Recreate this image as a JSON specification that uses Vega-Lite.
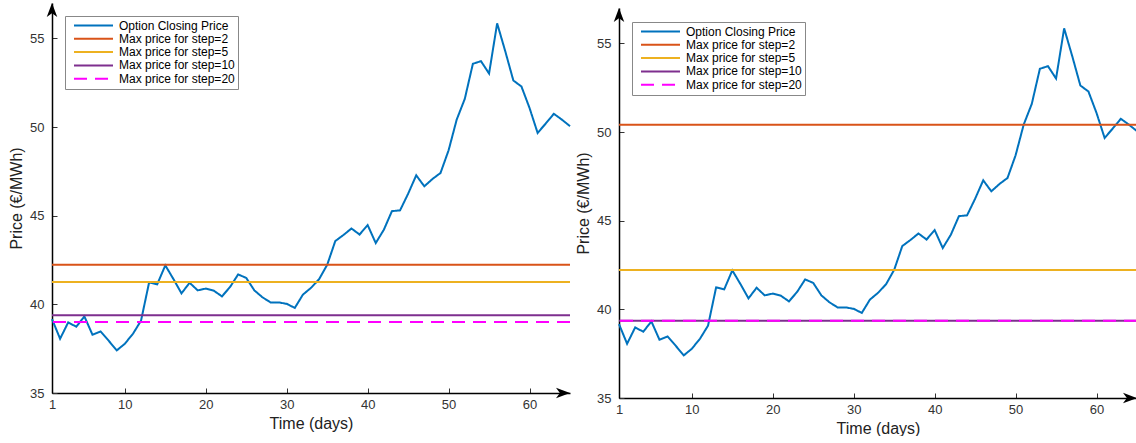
{
  "$schema": "https://vega.github.io/schema/vega-lite/v6.json",
  "autosize": {"type": "pad"},
  "padding": {"left": 8, "top": 3, "right": 0, "bottom": 0},
  "bounds": "flush",
  "spacing": 49,
  "config": {
    "view": {"stroke": null},
    "font": "Liberation Sans",
    "legend": {
      "orient": "none", "legendX": 13, "legendY": 13,
      "symbolType": "stroke", "symbolSize": 1521, "symbolStrokeWidth": 2,
      "labelFontSize": 12, "labelFont": "Liberation Sans", "labelColor": "#000",
      "labelOffset": 5, "symbolOffset": 5,
      "strokeColor": "#888", "fillColor": "white", "padding": 3,
      "clipHeight": 13, "rowPadding": 0.3, "labelLimit": 300
    }
  },
  "datasets": {
    "prices": [
      {"day": 1, "price": 39.17}, {"day": 2, "price": 38.06}, {"day": 3, "price": 38.98}, {"day": 4, "price": 38.74},
      {"day": 5, "price": 39.32}, {"day": 6, "price": 38.29}, {"day": 7, "price": 38.47}, {"day": 8, "price": 37.95},
      {"day": 9, "price": 37.40}, {"day": 10, "price": 37.78}, {"day": 11, "price": 38.34}, {"day": 12, "price": 39.08},
      {"day": 13, "price": 41.24}, {"day": 14, "price": 41.13}, {"day": 15, "price": 42.20}, {"day": 16, "price": 41.43},
      {"day": 17, "price": 40.62}, {"day": 18, "price": 41.22}, {"day": 19, "price": 40.79}, {"day": 20, "price": 40.89},
      {"day": 21, "price": 40.77}, {"day": 22, "price": 40.45}, {"day": 23, "price": 40.98}, {"day": 24, "price": 41.69},
      {"day": 25, "price": 41.49}, {"day": 26, "price": 40.79}, {"day": 27, "price": 40.40}, {"day": 28, "price": 40.11},
      {"day": 29, "price": 40.11}, {"day": 30, "price": 40.03}, {"day": 31, "price": 39.80}, {"day": 32, "price": 40.55},
      {"day": 33, "price": 40.93}, {"day": 34, "price": 41.42}, {"day": 35, "price": 42.23}, {"day": 36, "price": 43.57},
      {"day": 37, "price": 43.91}, {"day": 38, "price": 44.28}, {"day": 39, "price": 43.94}, {"day": 40, "price": 44.47},
      {"day": 41, "price": 43.46}, {"day": 42, "price": 44.21}, {"day": 43, "price": 45.26}, {"day": 44, "price": 45.30},
      {"day": 45, "price": 46.24}, {"day": 46, "price": 47.28}, {"day": 47, "price": 46.66}, {"day": 48, "price": 47.07},
      {"day": 49, "price": 47.41}, {"day": 50, "price": 48.69}, {"day": 51, "price": 50.42}, {"day": 52, "price": 51.59},
      {"day": 53, "price": 53.57}, {"day": 54, "price": 53.72}, {"day": 55, "price": 53.02}, {"day": 56, "price": 55.85},
      {"day": 57, "price": 54.28}, {"day": 58, "price": 52.63}, {"day": 59, "price": 52.29}, {"day": 60, "price": 51.08},
      {"day": 61, "price": 49.67}, {"day": 62, "price": 50.20}, {"day": 63, "price": 50.75}, {"day": 64, "price": 50.42},
      {"day": 65, "price": 50.05}
    ],
    "levels": [
      {"panel": "L", "series": "Max price for step=2", "price": 42.24},
      {"panel": "L", "series": "Max price for step=5", "price": 41.26},
      {"panel": "L", "series": "Max price for step=10", "price": 39.38},
      {"panel": "L", "series": "Max price for step=20", "price": 39.0},
      {"panel": "R", "series": "Max price for step=2", "price": 50.42},
      {"panel": "R", "series": "Max price for step=5", "price": 42.22},
      {"panel": "R", "series": "Max price for step=10", "price": 39.36},
      {"panel": "R", "series": "Max price for step=20", "price": 39.36}
    ]
  },
  "hconcat": [
    {
      "width": 518, "height": 390,
      "layer": [
        {
          "data": {"name": "prices"},
          "mark": {"type": "line", "strokeWidth": 2},
          "encoding": {
            "x": {"field": "day", "type": "quantitative", "title": "Time (days)",
              "scale": {"domain": [1, 65], "nice": false, "zero": false},
              "axis": {"values": [1, 10, 20, 30, 40, 50, 60], "grid": false, "domainColor": "#000", "domainWidth": 1.5,
                "tickColor": "#333", "tickSize": -5, "labelFontSize": 13, "labelColor": "#333", "labelPadding": 10,
                "labelFlush": false, "titleFontSize": 16, "titleFontWeight": "normal", "titleColor": "#222", "titlePadding": 4}},
            "y": {"field": "price", "type": "quantitative", "title": "Price (€/MWh)",
              "scale": {"domain": [35, 57], "nice": false, "zero": false},
              "axis": {"values": [35, 40, 45, 50, 55], "grid": false, "domainColor": "#000", "domainWidth": 1.5,
                "tickColor": "#333", "tickSize": -5, "labelFontSize": 13, "labelColor": "#333", "labelPadding": 13,
                "titleFontSize": 16, "titleFontWeight": "normal", "titleColor": "#222", "titlePadding": 5}},
            "color": {"datum": "Option Closing Price", "type": "nominal", "title": null,
              "scale": {"domain": ["Option Closing Price", "Max price for step=2", "Max price for step=5", "Max price for step=10", "Max price for step=20"],
                "range": ["#0072BD", "#D95319", "#EDB120", "#7E2F8E", "#FF00FF"]}},
            "strokeDash": {"datum": "Option Closing Price", "type": "nominal", "title": null,
              "scale": {"domain": ["Option Closing Price", "Max price for step=2", "Max price for step=5", "Max price for step=10", "Max price for step=20"],
                "range": [[1, 0], [1, 0], [1, 0], [1, 0], [13, 8]]}}
          }
        },
        {
          "data": {"name": "levels"},
          "transform": [{"filter": "datum.panel === 'L'"}],
          "mark": {"type": "rule", "strokeWidth": 2},
          "encoding": {
            "y": {"field": "price", "type": "quantitative", "title": "Price (€/MWh)"},
            "color": {"field": "series", "type": "nominal", "title": null},
            "strokeDash": {"field": "series", "type": "nominal", "title": null}
          }
        },
        {
          "data": {"values": [{"k": 1}]},
          "mark": {"type": "point", "shape": "M0,0L-2,-0.75L-1.45,0L-2,0.75Z", "filled": true, "color": "black", "size": 196, "opacity": 1, "strokeWidth": 0},
          "encoding": {"x": {"datum": 65, "type": "quantitative", "title": "Time (days)"}, "y": {"datum": 35, "type": "quantitative", "title": "Price (€/MWh)"}}
        },
        {
          "data": {"values": [{"k": 1}]},
          "mark": {"type": "point", "shape": "M0,0L-0.75,2L0,1.45L0.75,2Z", "filled": true, "color": "black", "size": 196, "opacity": 1, "strokeWidth": 0},
          "encoding": {"x": {"datum": 1, "type": "quantitative", "title": "Time (days)"}, "y": {"datum": 57, "type": "quantitative", "title": "Price (€/MWh)"}}
        }
      ]
    },
    {
      "width": 518, "height": 395,
      "layer": [
        {
          "data": {"name": "prices"},
          "mark": {"type": "line", "strokeWidth": 2},
          "encoding": {
            "x": {"field": "day", "type": "quantitative", "title": "Time (days)",
              "scale": {"domain": [1, 65], "nice": false, "zero": false},
              "axis": {"values": [1, 10, 20, 30, 40, 50, 60], "grid": false, "domainColor": "#000", "domainWidth": 1.5,
                "tickColor": "#333", "tickSize": -5, "labelFontSize": 13, "labelColor": "#333", "labelPadding": 10,
                "labelFlush": false, "titleFontSize": 16, "titleFontWeight": "normal", "titleColor": "#222", "titlePadding": 4}},
            "y": {"field": "price", "type": "quantitative", "title": "Price (€/MWh)",
              "scale": {"domain": [35, 57], "range": [395, 5], "nice": false, "zero": false},
              "axis": {"values": [35, 40, 45, 50, 55], "grid": false, "domainColor": "#000", "domainWidth": 1.5,
                "tickColor": "#333", "tickSize": -5, "labelFontSize": 13, "labelColor": "#333", "labelPadding": 13,
                "titleFontSize": 16, "titleFontWeight": "normal", "titleColor": "#222", "titlePadding": 5}},
            "color": {"datum": "Option Closing Price", "type": "nominal", "title": null,
              "legend": {"legendY": 19},
              "scale": {"domain": ["Option Closing Price", "Max price for step=2", "Max price for step=5", "Max price for step=10", "Max price for step=20"],
                "range": ["#0072BD", "#D95319", "#EDB120", "#7E2F8E", "#FF00FF"]}},
            "strokeDash": {"datum": "Option Closing Price", "type": "nominal", "title": null,
              "legend": {"legendY": 19},
              "scale": {"domain": ["Option Closing Price", "Max price for step=2", "Max price for step=5", "Max price for step=10", "Max price for step=20"],
                "range": [[1, 0], [1, 0], [1, 0], [1, 0], [13, 8]]}}
          }
        },
        {
          "data": {"name": "levels"},
          "transform": [{"filter": "datum.panel === 'R'"}],
          "mark": {"type": "rule", "strokeWidth": 2},
          "encoding": {
            "y": {"field": "price", "type": "quantitative", "title": "Price (€/MWh)"},
            "color": {"field": "series", "type": "nominal", "title": null},
            "strokeDash": {"field": "series", "type": "nominal", "title": null}
          }
        },
        {
          "data": {"values": [{"k": 1}]},
          "mark": {"type": "point", "shape": "M0,0L-2,-0.75L-1.45,0L-2,0.75Z", "filled": true, "color": "black", "size": 196, "opacity": 1, "strokeWidth": 0},
          "encoding": {"x": {"datum": 65, "type": "quantitative", "title": "Time (days)"}, "y": {"datum": 35, "type": "quantitative", "title": "Price (€/MWh)"}}
        },
        {
          "data": {"values": [{"k": 1}]},
          "mark": {"type": "point", "shape": "M0,0L-0.75,2L0,1.45L0.75,2Z", "filled": true, "color": "black", "size": 196, "opacity": 1, "strokeWidth": 0},
          "encoding": {"x": {"datum": 1, "type": "quantitative", "title": "Time (days)"}, "y": {"datum": 57, "type": "quantitative", "title": "Price (€/MWh)"}}
        }
      ]
    }
  ],
  "resolve": {"scale": {"color": "independent", "strokeDash": "independent"}}
}
